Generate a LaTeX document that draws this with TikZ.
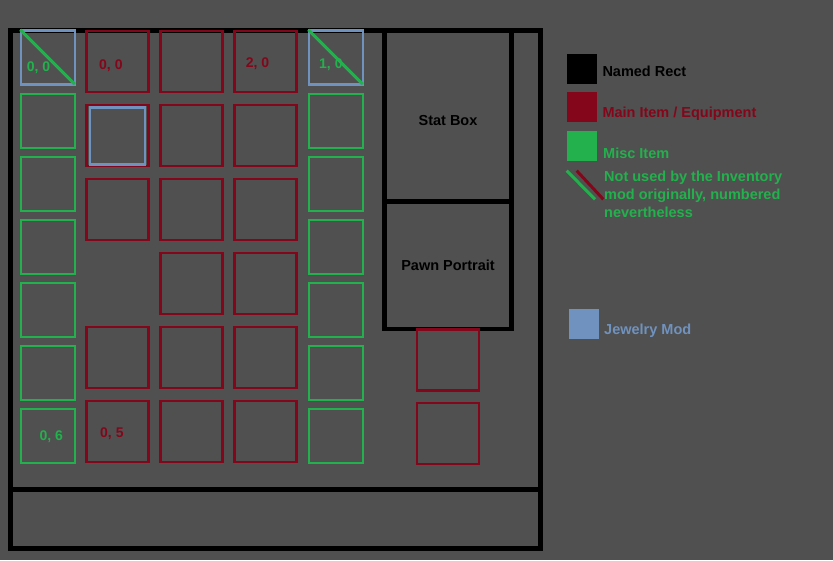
\documentclass[tikz,border=0pt]{standalone}
\usepackage{fontspec}
\setmainfont{Liberation Sans}
\definecolor{bggray}{RGB}{80,80,80}
\definecolor{mainred}{RGB}{132,6,26}
\definecolor{miscgreen}{RGB}{34,177,76}
\definecolor{jewelblue}{RGB}{112,146,190}

\begin{document}
\begin{tikzpicture}[x=1pt,y=-1pt]
\tikzset{
  slotcell/.style={draw,line width=2.8pt,minimum width=54pt,minimum height=54pt,inner sep=0pt},
  miscitem/.style={slotcell,draw=miscgreen},
  jewelry/.style={slotcell,draw=jewelblue},
  mainitem/.style={slotcell,draw=mainred,minimum width=62pt,minimum height=61pt},
  namedrect/.style={draw=black,line width=4.5pt,inner sep=0pt,font=\bfseries\fontsize{14.5}{17.8}\selectfont},
  slotnum/.style={anchor=base west,inner sep=0pt,font=\bfseries\fontsize{14}{17}\selectfont},
  keybox/.style={minimum width=30pt,minimum height=30pt,inner sep=0pt},
  keytext/.style={anchor=base west,inner sep=0pt,align=left,font=\bfseries\fontsize{14.5}{17.8}\selectfont},
  notused/.style={line width=3pt,miscgreen}
}
\fill[bggray] (0,0) rectangle (833,560);
\node[namedrect,minimum width=530pt,minimum height=459pt] (n_inventory) at (275.5,260) {};
\node[namedrect,minimum width=530pt,minimum height=59pt] (n_footer) at (275.5,519) {};
\node[namedrect,minimum width=127pt,minimum height=171pt,text height=18.6pt,text depth=0pt] (n_statbox) at (448,116) {Stat Box};
\node[namedrect,minimum width=127pt,minimum height=127.5pt] (n_portrait) at (448,265.25) {Pawn Portrait};
\node[jewelry] (n_jewel_l) at (48,57.5) {};
\node[miscitem] (n_misc_l_1) at (48,121) {};
\node[miscitem] (n_misc_l_2) at (48,184) {};
\node[miscitem] (n_misc_l_3) at (48,247) {};
\node[miscitem] (n_misc_l_4) at (48,310) {};
\node[miscitem] (n_misc_l_5) at (48,373) {};
\node[miscitem] (n_misc_l_6) at (48,436) {};
\node[jewelry] (n_jewel_r) at (336,57.5) {};
\node[miscitem] (n_misc_r_1) at (336,121) {};
\node[miscitem] (n_misc_r_2) at (336,184) {};
\node[miscitem] (n_misc_r_3) at (336,247) {};
\node[miscitem] (n_misc_r_4) at (336,310) {};
\node[miscitem] (n_misc_r_5) at (336,373) {};
\node[miscitem] (n_misc_r_6) at (336,436) {};
\node[mainitem] (n_main_0_0) at (117.5,61.5) {};
\node[mainitem] (n_main_1_0) at (191.5,61.5) {};
\node[mainitem] (n_main_2_0) at (265.5,61.5) {};
\node[mainitem] (n_main_0_1) at (117.5,135.5) {};
\node[mainitem] (n_main_1_1) at (191.5,135.5) {};
\node[mainitem] (n_main_2_1) at (265.5,135.5) {};
\node[mainitem] (n_main_0_2) at (117.5,209.5) {};
\node[mainitem] (n_main_1_2) at (191.5,209.5) {};
\node[mainitem] (n_main_2_2) at (265.5,209.5) {};
\node[mainitem] (n_main_1_3) at (191.5,283.5) {};
\node[mainitem] (n_main_2_3) at (265.5,283.5) {};
\node[mainitem] (n_main_0_4) at (117.5,357.5) {};
\node[mainitem] (n_main_1_4) at (191.5,357.5) {};
\node[mainitem] (n_main_2_4) at (265.5,357.5) {};
\node[mainitem] (n_main_0_5) at (117.5,431.5) {};
\node[mainitem] (n_main_1_5) at (191.5,431.5) {};
\node[mainitem] (n_main_2_5) at (265.5,431.5) {};
\node[jewelry,minimum width=55pt,minimum height=56.5pt] (n_jewel_m) at (117.5,136) {};
\node[mainitem] (n_side_0) at (448,360) {};
\node[mainitem] (n_side_1) at (448,433.5) {};
\node[slotnum,text=miscgreen] (n_num_jl) at (26.7,71.7) {0, 0};
\node[slotnum,text=mainred] (n_num_m00) at (99,69) {0, 0};
\node[slotnum,text=mainred] (n_num_m20) at (245.7,67.3) {2, 0};
\node[slotnum,text=miscgreen] (n_num_jr) at (319,68.3) {1, 0};
\node[slotnum,text=miscgreen] (n_num_l6) at (39.3,440) {0, 6};
\node[slotnum,text=mainred] (n_num_m05) at (100,437.7) {0, 5};
\draw[notused,shorten <=1pt,shorten >=2.5pt] (n_jewel_l.north west) -- (n_jewel_l.south east);
\draw[notused,shorten <=1pt,shorten >=2.5pt] (n_jewel_r.north west) -- (n_jewel_r.south east);
\node[keybox,fill=black] (n_key_named) at (582,69) {};
\node[keybox,fill=mainred] (n_key_main) at (582,106.7) {};
\node[keybox,fill=miscgreen] (n_key_misc) at (582,145.7) {};
\node[keybox,fill=jewelblue] (n_key_jewel) at (584,324) {};
\draw[notused] (566.7,170.7) -- (595,199.3);
\draw[notused,mainred] (576.7,170.7) -- (603.3,199.3);
\node[keytext,text=black] (n_txt_named) at (602.3,76.7) {Named Rect};
\node[keytext,text=mainred] (n_txt_main) at (602.3,117.3) {Main Item / Equipment};
\node[keytext,text=miscgreen] (n_txt_misc) at (603,158.3) {Misc Item};
\node[keytext,text=miscgreen] (n_txt_notused) at (604,217.3) {Not used by the Inventory\\mod originally, numbered\\nevertheless};
\node[keytext,text=jewelblue] (n_txt_jewel) at (604,334.3) {Jewelry Mod};
\end{tikzpicture}
\end{document}
